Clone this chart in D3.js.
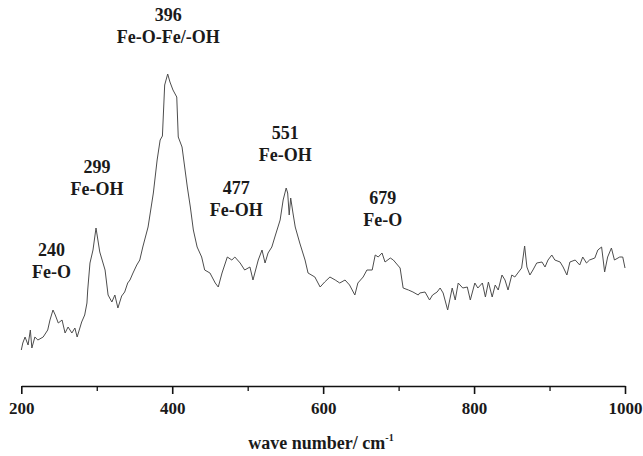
<!DOCTYPE html>
<html>
<head>
<meta charset="utf-8">
<script src="https://cdnjs.cloudflare.com/ajax/libs/d3/7.8.5/d3.min.js"></script>
<style>
  body { margin: 0; background: #fff; }
  svg { display: block; }
  text { font-family: "Liberation Serif", "Times New Roman", serif; font-weight: bold; fill: #1a1a1a; }
</style>
</head>
<body>
<svg width="643" height="456"></svg>
<script>
// Raman spectrum (arbitrary intensity units)
var waveNumber = [200, 202, 205, 209, 212, 214, 218, 222, 229, 235, 238, 242, 245, 249, 254, 258, 262, 267, 271, 274,
  280, 284, 287, 288, 291, 295, 299, 304, 311, 315, 320, 324, 328, 333, 337, 341, 344, 348, 353, 357,
  361, 368, 375, 380, 384, 387, 390, 394, 397, 401, 406, 408, 413, 420, 424, 428, 433, 439, 443, 450,
  457, 461, 466, 473, 479, 483, 490, 496, 503, 507, 514, 519, 523, 527, 532, 536, 543, 547, 551, 553,
  555, 557, 560, 563, 569, 576, 580, 589, 596, 602, 609, 616, 622, 629, 635, 642, 646, 653, 658, 665,
  669, 673, 678, 682, 689, 693, 702, 706, 713, 719, 726, 728, 735, 741, 745, 751, 755, 759, 765, 771,
  775, 779, 785, 791, 795, 801, 805, 811, 815, 819, 824, 828, 832, 837, 841, 845, 850, 854, 858, 863,
  867, 870, 874, 878, 883, 890, 894, 898, 903, 907, 914, 918, 923, 927, 934, 940, 944, 949, 953, 960,
  964, 969, 973, 977, 982, 986, 993, 997, 1000];
var intensity = [50, 57, 63, 55, 70, 52, 63, 60, 63, 70, 80, 90, 85, 77, 80, 67, 73, 67, 72, 63,
  78, 85, 97, 110, 137, 150, 172, 148, 130, 105, 98, 105, 92, 104, 108, 117, 120, 127, 135, 140,
  153, 173, 207, 240, 260, 264, 315, 326, 318, 310, 303, 263, 253, 213, 193, 170, 153, 143, 130, 127,
  117, 113, 127, 143, 140, 143, 137, 130, 133, 120, 140, 150, 137, 147, 153, 163, 180, 200, 212, 207,
  185, 202, 187, 173, 157, 140, 127, 123, 113, 118, 123, 120, 117, 120, 115, 105, 117, 123, 130, 130,
  145, 143, 147, 138, 142, 140, 132, 112, 110, 108, 105, 107, 108, 100, 105, 108, 112, 107, 90, 112,
  100, 117, 112, 113, 100, 117, 112, 117, 103, 118, 103, 115, 110, 125, 120, 110, 125, 123, 127, 132,
  154, 133, 125, 130, 137, 138, 133, 140, 145, 140, 138, 133, 125, 138, 140, 135, 143, 137, 140, 142,
  150, 153, 128, 143, 152, 140, 143, 143, 132];

var peakWave = [240, 299, 396, 477, 551, 679];
var peakNumber = ["240", "299", "396", "477", "551", "679"];
var peakName = ["Fe-O", "Fe-OH", "Fe-O-Fe/-OH", "Fe-OH", "Fe-OH", "Fe-O"];

var majorTicks = [200, 400, 600, 800, 1000];
var minorTicks = [300, 500, 700, 900];

var svg = d3.select("svg");

var x = d3.scaleLinear().domain([200, 1000]).range([21.3, 625]);
var y = d3.scaleLinear().domain([0, 350]).range([400, 50]);

// axis (no y axis in the original)
var gAxis = svg.append("g").attr("transform", "translate(0,386)");
gAxis.call(d3.axisBottom(x).tickValues(majorTicks).tickSize(8).tickSizeOuter(0).tickPadding(8).tickFormat(d3.format("d")));
gAxis.select(".domain").attr("stroke", "#111").attr("stroke-width", 1.6);
gAxis.selectAll(".tick line").attr("stroke", "#111").attr("stroke-width", 1.6);
gAxis.selectAll(".tick text").attr("font-size", 17).attr("font-family", null).attr("fill", "#1a1a1a");

var gMinor = svg.append("g").attr("transform", "translate(0,386)");
gMinor.call(d3.axisBottom(x).tickValues(minorTicks).tickSize(5).tickFormat(""));
gMinor.select(".domain").remove();
gMinor.selectAll(".tick line").attr("stroke", "#111").attr("stroke-width", 1.3);

var title = svg.append("text")
    .attr("x", 321)
    .attr("y", 449)
    .attr("text-anchor", "middle")
    .attr("font-size", 18);
title.append("tspan").text("wave number/ cm");
title.append("tspan").attr("font-size", 10).attr("dy", -8).text("-1");

// spectrum
var line = d3.line()
    .x(function(d, i) { return x(waveNumber[i]); })
    .y(function(d) { return y(d); });

svg.append("path")
    .datum(intensity)
    .attr("d", line)
    .attr("fill", "none")
    .attr("stroke", "#4d4d4d")
    .attr("stroke-width", 1)
    .attr("stroke-linejoin", "round");

// peak labels: gap above the local maximum, and small x nudges
var labelGap = [60, 61, 59, 69, 55, 55];
var labelDx = [0, 1, -1, 6, -1, 0];

peakWave.forEach(function(w, i) {
  var near = waveNumber.map(function(v, j) { return Math.abs(v - w) <= 8 ? intensity[j] : -Infinity; });
  var top = y(d3.max(near));
  var g = svg.append("g")
      .attr("transform", "translate(" + (x(w) + labelDx[i]) + "," + (top - labelGap[i]) + ")");
  g.append("text").attr("text-anchor", "middle").attr("y", 6).attr("font-size", 18).text(peakNumber[i]);
  g.append("text").attr("text-anchor", "middle").attr("y", 28).attr("font-size", 18).text(peakName[i]);
});
</script>
</body>
</html>
